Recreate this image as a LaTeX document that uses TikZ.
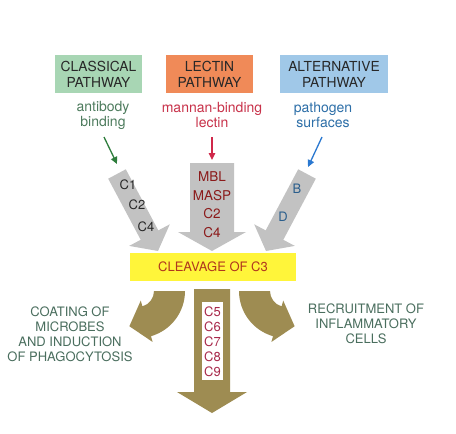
\documentclass[tikz,border=0pt]{standalone}
\usepackage{fontspec}
\setmainfont{TeX Gyre Heros}
\usetikzlibrary{arrows.meta,calc}
\definecolor{clsfill}{HTML}{A8D6B4}
\definecolor{lecfill}{HTML}{F08A58}
\definecolor{altfill}{HTML}{A0C8E8}
\definecolor{boxtext}{HTML}{282828}
\definecolor{clstext}{HTML}{4E7C5E}
\definecolor{lectext}{HTML}{C8324A}
\definecolor{alttext}{HTML}{2D6FA8}
\definecolor{clsarrow}{HTML}{2E7D3C}
\definecolor{lecarrow}{HTML}{D0284A}
\definecolor{altarrow}{HTML}{2A78D0}
\definecolor{grayarrow}{HTML}{C2C2C2}
\definecolor{midtext}{HTML}{8B1A1A}
\definecolor{rtext}{HTML}{2A5E8C}
\definecolor{cleave}{HTML}{FFF53A}
\definecolor{cleavetext}{HTML}{B0361E}
\definecolor{brownarrow}{HTML}{9E8C52}
\definecolor{ctext}{HTML}{A8284A}
\definecolor{outtext}{HTML}{4A6E5E}
\begin{document}
\begin{tikzpicture}[x=1pt,y=-1pt,
  lbl/.style={font=\fontsize{13.8}{16}\selectfont, align=center, inner sep=0pt},
  pbox/.style={lbl, minimum height=38pt, text=boxtext},
  subtxt/.style={font=\fontsize{14}{15}\selectfont, align=center, inner sep=0pt},
  arrtxt/.style={font=\fontsize{13}{15}\selectfont, inner sep=0pt},
  outtxt/.style={font=\fontsize{13}{15}\selectfont, align=center, inner sep=0pt, text=outtext},
  conn/.style={line width=1.3pt, -{Triangle[length=7pt,width=6.5pt]}}]
\useasboundingbox (0,0) rectangle (456,434);
\fill[white] (0,0) rectangle (456,434);

% pathway boxes
\node[pbox, fill=clsfill, minimum width=87pt] (cls) at (98.5,74) {CLASSICAL\\PATHWAY};
\node[pbox, fill=lecfill, minimum width=87pt] (lec) at (209.5,74) {LECTIN\\PATHWAY};
\node[pbox, fill=altfill, minimum width=108pt] (alt) at (334,74) {ALTERNATIVE\\PATHWAY};

% triggers
\node[subtxt, text=clstext] (ab) at (103,115) {antibody\\binding};
\node[subtxt, text=lectext] (mbl) at (212,115) {mannan-binding\\lectin};
\node[subtxt, text=alttext] (ps) at (323,115) {pathogen\\surfaces};

% gray arrows
\fill[grayarrow] (108.2,178.7) -- (125.8,169.3) -- (158.3,230.4) -- (169.8,224.3) -- (158,251) -- (129.2,245.9) -- (140.7,239.8) -- cycle;
\fill[grayarrow] (315.8,178.7) -- (298.2,169.3) -- (265.7,230.4) -- (254.2,224.3) -- (266,251) -- (294.8,245.9) -- (283.3,239.8) -- cycle;
\fill[grayarrow] (190,163) -- (234,163) -- (234,232) -- (246,232) -- (212,251) -- (178,232) -- (190,232) -- cycle;

% connectors
\coordinate (abs) at (104,137);
\coordinate (abe) at (117,164);
\coordinate (mbs) at (212,137);
\coordinate (mbe) at (212,160);
\coordinate (pss) at (322,137);
\coordinate (pse) at (308,167);
\draw[conn, clsarrow] (abs) -- (abe);
\draw[conn, lecarrow] (mbs) -- (mbe);
\draw[conn, altarrow] (pss) -- (pse);

% gray arrow texts
\node[arrtxt, text=boxtext] (c1) at (128,185) {C1};
\node[arrtxt, text=boxtext] (c2) at (137,205) {C2};
\node[arrtxt, text=boxtext] (c4) at (146,227) {C4};
\node[arrtxt, text=midtext, font=\fontsize{13.5}{15}\selectfont] (m1) at (212,177) {MBL};
\node[arrtxt, text=midtext, font=\fontsize{13.5}{15}\selectfont] (m2) at (212,195.5) {MASP};
\node[arrtxt, text=midtext, font=\fontsize{13.5}{15}\selectfont] (m3) at (212,214) {C2};
\node[arrtxt, text=midtext, font=\fontsize{13.5}{15}\selectfont] (m4) at (212,233) {C4};
\node[arrtxt, text=rtext] (rb) at (297,189) {B};
\node[arrtxt, text=rtext] (rd) at (283,217) {D};

% cleavage box
\node[fill=cleave, minimum width=166pt, minimum height=28pt, inner sep=0pt,
      font=\fontsize{13}{15}\selectfont, text=cleavetext] (c3) at (213,267) {CLEAVAGE OF C3};

% brown arrows
\fill[brownarrow] (194,289) -- (230,289) -- (230,392) -- (247,392) -- (212,413) -- (177,392) -- (194,392) -- cycle;
\coordinate (lc) at (138,291);
\fill[brownarrow] ($(lc)+(0:47)$) arc[start angle=0,end angle=74,radius=47]
  -- ($(lc)+(74:53)$) -- ($(lc)+(74:31.5)+(164:18)$) -- ($(lc)+(74:10)$)
  -- ($(lc)+(74:16)$) arc[start angle=74,end angle=0,radius=16] -- cycle;
\coordinate (rc) at (286,291);
\fill[brownarrow] ($(rc)+(180:47)$) arc[start angle=180,end angle=106,radius=47]
  -- ($(rc)+(106:53)$) -- ($(rc)+(106:31.5)+(16:18)$) -- ($(rc)+(106:10)$)
  -- ($(rc)+(106:16)$) arc[start angle=106,end angle=180,radius=16] -- cycle;

% white box with C5-C9
\fill[white] (202,302) rectangle (223,380);
\node[arrtxt, text=ctext] (c5) at (212.5,312) {C5};
\node[arrtxt, text=ctext] (c6) at (212.5,327) {C6};
\node[arrtxt, text=ctext] (c7) at (212.5,342) {C7};
\node[arrtxt, text=ctext] (c8) at (212.5,357) {C8};
\node[arrtxt, text=ctext] (c9) at (212.5,372) {C9};

% outcome texts
\node[outtxt] (coat) at (70,334.5) {COATING OF\\MICROBES\\AND INDUCTION\\OF PHAGOCYTOSIS};
\node[outtxt] (recr) at (366,324) {RECRUITMENT OF\\INFLAMMATORY\\CELLS};
\end{tikzpicture}
\end{document}
